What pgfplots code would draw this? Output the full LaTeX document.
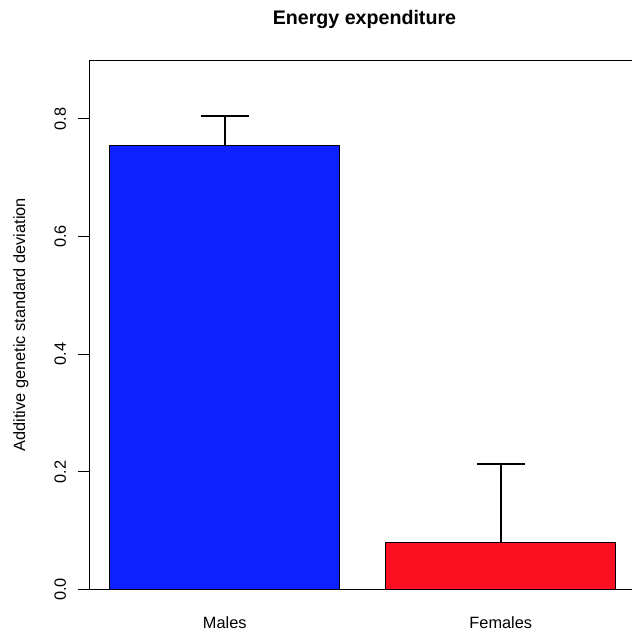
\documentclass[border=0pt]{standalone}
\usepackage{fontspec}
\setmainfont{Liberation Sans}
\usepackage{pgfplots}
\pgfplotsset{compat=1.18}
\definecolor{malesblue}{RGB}{13,33,255}
\definecolor{femalesred}{RGB}{250,16,32}
\begin{document}
\begin{tikzpicture}
\begin{axis}[
  at={(89.5bp,44.5bp)}, anchor=south west,
  scale only axis, width=546.5bp, height=529.5bp,
  xmin=0.112, xmax=2.488, ymin=0, ymax=0.9,
  axis line style={line width=0.9bp},
  xtick=\empty,
  xtick pos=bottom,
  extra x ticks={0.7,1.9},
  extra x tick labels={Males,Females},
  extra x tick style={major tick length=0pt, tick style={draw=none}},
  xticklabel style={anchor=base, yshift=-39.5bp, inner sep=0pt,
    font=\fontsize{16.4}{18}\selectfont},
  ytick={0,0.2,0.4,0.6,0.8},
  yticklabels={0.0,0.2,0.4,0.6,0.8},
  ytick pos=left,
  tick align=outside,
  major tick length=11.5bp,
  tick style={line width=0.9bp, black},
  yticklabel style={xshift=-12bp, rotate=90, anchor=base, inner sep=0pt,
    font=\fontsize{16.4}{18}\selectfont},
  every axis y label/.style={at={(rel axis cs:-0.118,0.5)}, rotate=90,
    anchor=base, inner sep=0pt, font=\fontsize{16.4}{18}\selectfont},
  ylabel={Additive genetic standard deviation},
  every axis title/.style={at={(rel axis cs:0.5,1)}, anchor=base,
    yshift=35bp, xshift=1.7bp, inner sep=0pt,
    font=\bfseries\fontsize{19.7}{22}\selectfont},
  title={Energy expenditure},
]
% Males
\addplot[ybar, bar width=1, bar shift=0pt, fill=malesblue, draw=black,
  line width=1bp,
  error bars/.cd, y dir=plus, y explicit,
  error bar style={line width=2bp, black},
  error mark options={rotate=90, mark size=24bp, line width=2bp, black}]
  coordinates {(0.7,0.754) +- (0,0.0506)};
% Females
\addplot[ybar, bar width=1, bar shift=0pt, fill=femalesred, draw=black,
  line width=1bp,
  error bars/.cd, y dir=plus, y explicit,
  error bar style={line width=2bp, black},
  error mark options={rotate=90, mark size=24bp, line width=2bp, black}]
  coordinates {(1.9,0.0803) +- (0,0.1326)};
\end{axis}
\pgfresetboundingbox
\path[use as bounding box] (0,0) rectangle (632bp,634bp);
\end{tikzpicture}
\end{document}
